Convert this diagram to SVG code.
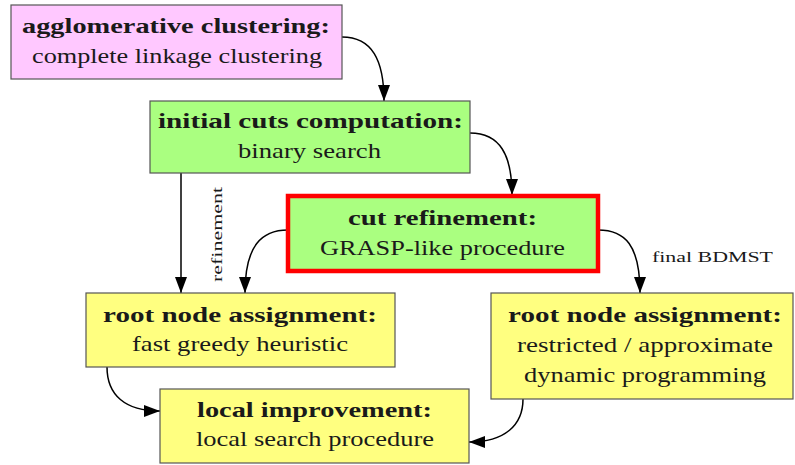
<svg xmlns="http://www.w3.org/2000/svg" width="795" height="465" viewBox="0 0 795 465">
<style>
.box{stroke:#555;stroke-width:1.2}
.pink{fill:#ffc8ff}
.green{fill:#aaff80}
.yellow{fill:#ffff80}
.red{stroke:#ff0000;stroke-width:4.5}
text{font-family:"Liberation Serif","DejaVu Serif",serif;fill:#1a1a1a;text-anchor:middle}
.t{font-weight:bold;font-size:22px}
.s{font-size:22px}
.lab{font-size:15.5px}
.edge{fill:none;stroke:#000;stroke-width:1.5;marker-end:url(#ah)}
</style>
<defs>
<marker id="ah" markerUnits="userSpaceOnUse" markerWidth="18" markerHeight="14" refX="16" refY="6" orient="auto">
<path d="M0,0 L16,6 L0,12 z" fill="#000"/>
</marker>
</defs>
<g id="edges">
<path class="edge" d="M342,37 C372,37 384,60 384,101"/>
<path class="edge" d="M470,133 C500,133 512,155 512,195"/>
<path class="edge" d="M181,173 L181,293"/>
<path class="edge" d="M288,230 C262,230 245,245 245,293"/>
<path class="edge" d="M598,230 C625,230 640,245 640,293"/>
<path class="edge" d="M107,367 C107,395 125,411 160,411"/>
<path class="edge" d="M523,399 C523,425 505,442 469,442"/>
<text class="lab" transform="translate(222,234.5) rotate(-90)" textLength="95" lengthAdjust="spacingAndGlyphs">refinement</text>
<text class="lab" x="712.5" y="262" textLength="121" lengthAdjust="spacingAndGlyphs">final BDMST</text>
</g>
<g id="n1">
<rect class="box pink" x="11" y="5" width="331" height="74"/>
<text class="t" x="176" y="33" textLength="308" lengthAdjust="spacingAndGlyphs">agglomerative clustering:</text>
<text class="s" x="177" y="63" textLength="290" lengthAdjust="spacingAndGlyphs">complete linkage clustering</text>
</g>
<g id="n2">
<rect class="box green" x="150" y="101" width="320" height="72"/>
<text class="t" x="310.5" y="128" textLength="305" lengthAdjust="spacingAndGlyphs">initial cuts computation:</text>
<text class="s" x="309.5" y="158" textLength="143" lengthAdjust="spacingAndGlyphs">binary search</text>
</g>
<g id="n3">
<rect class="green red" x="288" y="196" width="310" height="75"/>
<text class="t" x="442.5" y="225" textLength="189" lengthAdjust="spacingAndGlyphs">cut refinement:</text>
<text class="s" x="442.5" y="255" textLength="245" lengthAdjust="spacingAndGlyphs">GRASP-like procedure</text>
</g>
<g id="n4">
<rect class="box yellow" x="86" y="293" width="309" height="74"/>
<text class="t" x="240" y="322" textLength="274" lengthAdjust="spacingAndGlyphs">root node assignment:</text>
<text class="s" x="240" y="351" textLength="216" lengthAdjust="spacingAndGlyphs">fast greedy heuristic</text>
</g>
<g id="n5">
<rect class="box yellow" x="160" y="389" width="309" height="74"/>
<text class="t" x="314.5" y="417" textLength="235" lengthAdjust="spacingAndGlyphs">local improvement:</text>
<text class="s" x="315" y="446" textLength="238" lengthAdjust="spacingAndGlyphs">local search procedure</text>
</g>
<g id="n6">
<rect class="box yellow" x="491" y="293" width="302" height="106"/>
<text class="t" x="645" y="322" textLength="274" lengthAdjust="spacingAndGlyphs">root node assignment:</text>
<text class="s" x="645" y="352" textLength="256" lengthAdjust="spacingAndGlyphs">restricted / approximate</text>
<text class="s" x="645" y="382" textLength="242" lengthAdjust="spacingAndGlyphs">dynamic programming</text>
</g>
</svg>
